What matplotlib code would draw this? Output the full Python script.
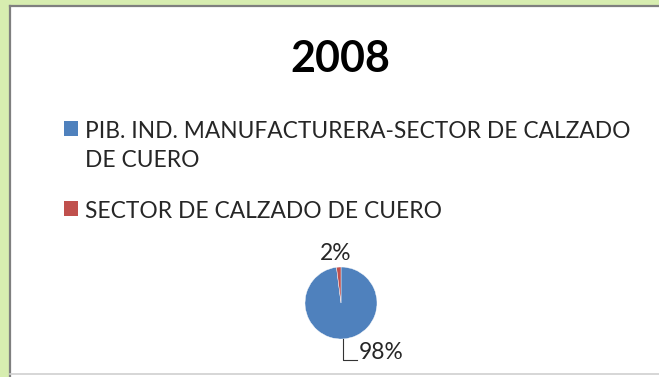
import matplotlib
matplotlib.use("Agg")
import matplotlib.pyplot as plt
from matplotlib.patches import Rectangle
from matplotlib.lines import Line2D
from matplotlib.offsetbox import HPacker

title = "2008"
categories = ["PIB. IND. MANUFACTURERA-SECTOR DE CALZADO\nDE CUERO",
              "SECTOR DE CALZADO DE CUERO"]
values = [98, 2]
pct_labels = ["98%", "2%"]
colors = ["#4F81BD", "#C0504D"]

W, H = 659, 377
fig = plt.figure(figsize=(W / 100, H / 100), dpi=100)
fig.patch.set_facecolor("#D7EDB0")
plt.rcParams["font.family"] = ["Lato", "DejaVu Sans"]
TXT = "#262626"
FS = 16.4


def px(x, y):
    return x / W, 1 - y / H


# white chart area with grey frame
fig.add_artist(Rectangle(px(10, 377), (W - 10) / W, (377 - 6) / H,
                         transform=fig.transFigure, facecolor="white",
                         edgecolor="none", zorder=0))
fig.add_artist(Line2D([10 / W, 10 / W], [1 - 6 / H, 0], transform=fig.transFigure,
                      color="#7F7F7F", lw=1.6))
fig.add_artist(Line2D([10 / W, 1], [1 - 6 / H, 1 - 6 / H], transform=fig.transFigure,
                      color="#7F7F7F", lw=1.6))
fig.add_artist(Line2D([10 / W, 1], [1 - 374 / H, 1 - 374 / H], transform=fig.transFigure,
                      color="#D0D0D0", lw=1.2))

fig.text(340 / W, 1 - 59 / H, title, ha="center", va="center",
         fontsize=31, fontweight="bold", color="black")

# pie
cx, cy, r = 341, 303, 36
ax = fig.add_axes([(cx - r) / W, 1 - (cy + r) / H, 2 * r / W, 2 * r / H])
wedges, _ = ax.pie(values, colors=colors, startangle=90, counterclock=False,
                   radius=1, wedgeprops=dict(edgecolor="white", linewidth=0.3))
ax.set_xlim(-1, 1)
ax.set_ylim(-1, 1)
ax.set_aspect("auto")
ax.axis("off")

# percentage labels
ax.text(-0.15, 1.38, pct_labels[1], ha="center", va="center", fontsize=FS,
        color=TXT, clip_on=False)
ax.plot([0.05, 0.05, 0.44], [-1.0, -1.58, -1.58], color="#333333", lw=0.8,
        clip_on=False)
ax.text(0.48, -1.38, pct_labels[0], ha="left", va="center", fontsize=FS,
        color=TXT, clip_on=False)

leg = fig.legend(wedges, categories, loc="upper left",
                 bbox_to_anchor=(64 / W, 1 - 121 / H), frameon=False,
                 fontsize=FS, handlelength=0.62, handleheight=0.62,
                 handletextpad=0.32, labelspacing=1.33, borderpad=0,
                 borderaxespad=0)
for t in leg.get_texts():
    t.set_color(TXT)
    t.set_linespacing(1.45)
for h in leg.legend_handles:
    h.set_edgecolor("none")


# keep each legend marker level with the first line of its label
def _align_top(box):
    for c in box.get_children():
        if isinstance(c, HPacker):
            c.align = "top"
        else:
            _align_top(c)


_align_top(leg._legend_handle_box)

fig.savefig("out.png", dpi=100, facecolor=fig.get_facecolor())
